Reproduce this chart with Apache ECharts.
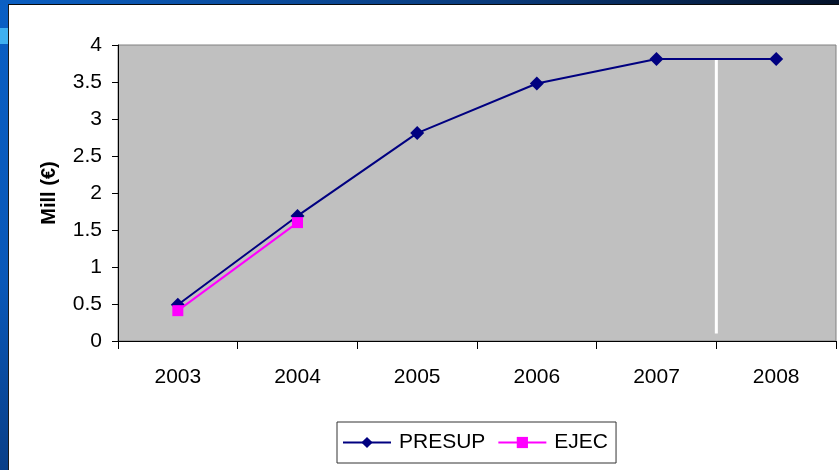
<!DOCTYPE html>
<html><head><meta charset="utf-8">
<script src="https://cdn.jsdelivr.net/npm/echarts@6/dist/echarts.min.js"></script>
<style>
html,body{margin:0;padding:0;width:839px;height:470px;overflow:hidden;background:linear-gradient(180deg,#0a5fc4 0%,#0a58b8 60%,#0a3f88 100%);}
#top{position:absolute;left:0;top:0;width:839px;height:4px;background:linear-gradient(90deg,#0b5fc2 0%,#0a3a7a 60%,#04122a 100%);}
#deco{position:absolute;left:0;top:28px;width:8px;height:16px;background:#3fb0f0;}
#wrap{position:absolute;left:8px;top:4px;width:831px;height:466px;background:#fff;border-left:1px solid #1a1a1a;border-top:1px solid #0a0a0a;}
#chart{width:830px;height:465px;}
</style></head>
<body>
<div id="top"></div><div id="deco"></div>
<div id="wrap"><div id="chart"></div></div>
<script>
const years = ['2003','2004','2005','2006','2007','2008'];
const presup = [0.49, 1.69, 2.81, 3.48, 3.81, 3.81];
const ejec = [0.41, 1.6, null, null, null, null];
const divider = [[5, 0.1], [5, 3.81]];
const yTicks = {min: 0, max: 4, interval: 0.5};

const chart = echarts.init(document.getElementById('chart'));
const font = 'Arial, "Liberation Sans", sans-serif';
chart.setOption({
  animation: false,
  grid: {left: 109, top: 40, right: 3, bottom: 129, backgroundColor: '#c0c0c0', show: true, borderColor: '#808080', borderWidth: 1},
  xAxis: [{
    type: 'category', data: years, boundaryGap: true,
    axisLine: {lineStyle: {color: '#000', width: 1}},
    axisTick: {show: true, length: 8, alignWithLabel: false, lineStyle: {color: '#000'}},
    axisLabel: {color: '#000', fontSize: 21, fontFamily: font, margin: 26},
    splitLine: {show: false}
  }, {
    type: 'value', min: 0, max: 6, show: false
  }],
  yAxis: {
    type: 'value', min: yTicks.min, max: yTicks.max, interval: yTicks.interval,
    name: 'Mill (€)', nameLocation: 'middle', nameGap: 59, nameRotate: 90,
    nameTextStyle: {color: '#000', fontSize: 20, fontWeight: 'bold', fontFamily: font},
    axisLine: {show: true, lineStyle: {color: '#000', width: 1}},
    axisTick: {show: true, length: 6, lineStyle: {color: '#000'}},
    axisLabel: {color: '#000', fontSize: 21, fontFamily: font, margin: 16},
    splitLine: {show: false}
  },
  legend: {
    left: 328, top: 417, orient: 'horizontal',
    padding: [10, 8, 10, 5], itemGap: 12,
    borderColor: '#333', borderWidth: 1, backgroundColor: '#fff',
    itemWidth: 48, itemHeight: 14,
    textStyle: {color: '#000', fontSize: 21, fontFamily: font, padding: [0, 0, 0, 3]},
    data: ['PRESUP', 'EJEC']
  },
  series: [
    {name: 'PRESUP', type: 'line', data: presup, symbol: 'diamond', symbolSize: 14,
     itemStyle: {color: '#000080'}, lineStyle: {color: '#000080', width: 2}, z: 3},
    {name: 'EJEC', type: 'line', data: ejec, symbol: 'rect', symbolSize: 11,
     itemStyle: {color: '#ff00ff'}, lineStyle: {color: '#ff00ff', width: 2}, z: 4},
    {name: 'divider', type: 'line', xAxisIndex: 1, data: divider, symbol: 'none',
     lineStyle: {color: '#ffffff', width: 3}, z: 2, silent: true}
  ]
});
</script>
</body></html>
